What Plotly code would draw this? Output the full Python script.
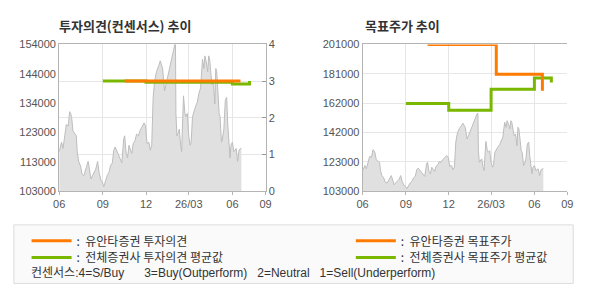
import plotly.graph_objects as go
import pandas as pd

# ---------------- data ----------------
start_date = "2025-06-01"
end_date = "2026-08-10"

tick_dates = ["2025-06-01", "2025-09-01", "2025-12-01", "2026-03-01", "2026-06-01", "2026-08-10"]
tick_labels = ["06", "09", "12", "26/03", "06", "09"]

# daily close (sampled), days since start_date
price_day = [0, 5, 8, 12, 15, 19, 22, 24, 26, 29,
             32, 36, 38, 41, 45, 48, 52, 55, 58, 61,
             64, 67, 70, 74, 77, 81, 84, 88, 91, 94,
             98, 101, 105, 108, 112, 115, 118, 122, 125, 129,
             132, 136, 138, 141, 144, 147, 150, 153, 156, 160,
             163, 167, 170, 174, 177, 179, 182, 185, 189, 192,
             195, 198, 201, 205, 210, 213, 218, 222, 225, 229,
             232, 236, 239, 243, 245, 246, 248, 251, 253, 256,
             258, 260, 262, 265, 267, 270, 273, 276, 278, 281,
             284, 287, 291, 294, 298, 300, 302, 305, 307, 310,
             313, 315, 317, 320, 322, 325, 328, 330, 332, 334,
             337, 339, 342, 344, 347, 350, 353, 355, 357, 360,
             362, 365, 368, 371, 373, 376, 379, 382, 384]
price_val = [116700, 120000, 117800, 123300, 126100, 125600, 130600, 130000, 128900, 123900,
             123300, 122200, 116700, 113300, 111700, 108900, 108300, 110600, 111700, 113300,
             110600, 107200, 108300, 110000, 110600, 113300, 109500, 106700, 106100, 104500,
             106700, 108300, 109500, 111700, 112800, 117200, 118300, 116700, 116100, 114500,
             112800, 121100, 122200, 116100, 114500, 118900, 117200, 116100, 119500, 120600,
             122800, 122200, 123900, 125000, 126100, 126700, 125600, 119500, 120000, 117200,
             118900, 135600, 141100, 144500, 146700, 148300, 145600, 137800, 140000, 143300,
             145600, 147800, 151100, 154500, 155000, 130000, 122200, 123300, 124500, 118900,
             116700, 126700, 136100, 130000, 128900, 130000, 122200, 118900, 120000, 128900,
             131100, 132200, 133900, 136700, 138900, 144500, 148900, 145600, 150000, 147800,
             144500, 150000, 148900, 143300, 140000, 141100, 133300, 145600, 144500, 138900,
             130000, 128900, 120000, 121100, 124500, 134500, 135600, 126700, 121100, 114500,
             118900, 120000, 116700, 117200, 117800, 113300, 117200, 117800, 117800]

# investment opinion (0-4 scale)
op_own_dates = ["2025-10-17", "2026-06-18"]
op_own_vals = [3.0, 3.0]
op_avg_dates = ["2025-09-01", "2025-12-01", "2026-06-01", "2026-07-07"]
op_avg_vals = [3.0, 2.97, 2.92, 3.0]

# target price
tp_own_dates = ["2025-10-17", "2026-03-12", "2026-06-18"]
tp_own_vals = [201000, 181000, 170000]
tp_avg_dates = ["2025-09-01", "2025-12-01", "2026-03-01", "2026-06-01", "2026-07-07"]
tp_avg_vals = [161500, 157000, 171000, 178500, 175500]

left_ytickvals = [103000, 113200, 123400, 133600, 143800, 154000]
left_yticktext = ["103000", "113000", "123000", "134000", "144000", "154000"]
op_tickvals = [0, 1, 2, 3, 4]
right_ytickvals = [103000, 122600, 142200, 161800, 181400, 201000]
right_yticktext = ["103000", "123000", "142000", "162000", "181000", "201000"]

# ---------------- styling ----------------
W, H = 590, 300
ORANGE = "#FF7A00"
GREEN = "#7AB800"
AXIS = "#b4b4b4"
GRID = "#e6e6e6"
TXT = "#555555"
KFONT = "Noto Sans CJK KR"
NFONT = "Liberation Sans"
nb = "\u00a0"

def px(x):
    return x / W

def py(y):
    return 1 - y / H

dates = [pd.Timestamp(start_date) + pd.Timedelta(days=d) for d in price_day]

fig = go.Figure()

for xa, ya in [("x", "y"), ("x2", "y3")]:
    fig.add_trace(go.Scatter(
        x=dates, y=price_val, xaxis=xa, yaxis=ya, mode="lines",
        line=dict(color="#bdbdbd", width=1), fill="tozeroy", fillcolor="#e0e0e0",
        showlegend=False, hoverinfo="skip"))

fig.add_trace(go.Scatter(
    x=op_avg_dates, y=op_avg_vals, xaxis="x", yaxis="y2", mode="lines",
    line=dict(color=GREEN, width=3, shape="hv"),
    name=":" + nb + " 전체증권사 투자의견 평균값", legend="legend2"))
fig.add_trace(go.Scatter(
    x=op_own_dates, y=op_own_vals, xaxis="x", yaxis="y2", mode="lines",
    line=dict(color=ORANGE, width=3, shape="hv"),
    name=":" + nb + " 유안타증권 투자의견", legend="legend"))
fig.add_trace(go.Scatter(
    x=tp_avg_dates, y=tp_avg_vals, xaxis="x2", yaxis="y3", mode="lines",
    line=dict(color=GREEN, width=3, shape="hv"),
    name=":" + nb + " 전체증권사 목표주가 평균값", legend="legend4"))
fig.add_trace(go.Scatter(
    x=tp_own_dates, y=tp_own_vals, xaxis="x2", yaxis="y3", mode="lines",
    line=dict(color=ORANGE, width=3, shape="hv"),
    name=":" + nb + " 유안타증권 목표주가", legend="legend3"))

tickfont = dict(family=NFONT, size=11, color=TXT)
ydom = [py(192.7), py(40)]

common_x = dict(type="date", range=[start_date, end_date], tickmode="array",
                tickvals=tick_dates, ticktext=tick_labels, showgrid=True,
                gridcolor=GRID, showline=True, linecolor=AXIS, linewidth=1,
                mirror=True, ticks="outside", ticklen=3, tickcolor=AXIS,
                tickfont=tickfont, zeroline=False, fixedrange=True)

legend_common = dict(orientation="v", xanchor="left", yanchor="top",
                     bgcolor="rgba(0,0,0,0)", borderwidth=0, itemwidth=40,
                     font=dict(family=KFONT, size=12, color="#333333"),
                     tracegroupgap=0, itemclick=False, itemdoubleclick=False)

fig.update_layout(
    width=W, height=H, margin=dict(l=0, r=0, t=0, b=0),
    paper_bgcolor="white", plot_bgcolor="white",
    xaxis=dict(domain=[px(54.3), px(265)], anchor="y", **common_x),
    yaxis=dict(domain=ydom, anchor="x", range=[103000, 154000], tickmode="array",
               tickvals=left_ytickvals, ticktext=left_yticktext, showgrid=False,
               showline=True, linecolor=AXIS, zeroline=False, tickfont=tickfont,
               ticks="", fixedrange=True),
    yaxis2=dict(overlaying="y", side="right", anchor="x", range=[0, 4],
                tickmode="array", tickvals=op_tickvals, showgrid=True, gridcolor=GRID,
                showline=True, linecolor=AXIS, zeroline=False, tickfont=tickfont,
                ticks="inside", ticklen=4, tickcolor="#999999", fixedrange=True),
    xaxis2=dict(domain=[px(364), px(573)], anchor="y3", **common_x),
    yaxis3=dict(domain=ydom, anchor="x2", range=[103000, 201000], tickmode="array",
                tickvals=right_ytickvals, ticktext=right_yticktext, showgrid=True,
                gridcolor=GRID, showline=True, linecolor=AXIS, zeroline=False,
                tickfont=tickfont, ticks="", fixedrange=True),
    legend=dict(x=px(21), y=py(229.5), **legend_common),
    legend2=dict(x=px(21), y=py(247), **legend_common),
    legend3=dict(x=px(352), y=py(229.5), **legend_common),
    legend4=dict(x=px(352), y=py(247), **legend_common),
    showlegend=True,
)

# legend box
fig.add_shape(type="rect", xref="paper", yref="paper",
              x0=px(8), x1=px(579), y0=py(289), y1=py(228),
              line=dict(color="#dcdcdc", width=1), fillcolor="#fafafa", layer="below")

# titles
fig.add_annotation(xref="paper", yref="paper", x=px(52), y=py(20), xanchor="left",
                   yanchor="middle", showarrow=False,
                   text="<b>투자의견(컨센서스) 추이</b>",
                   font=dict(family=KFONT, size=13, color="#333333"))
fig.add_annotation(xref="paper", yref="paper", x=px(364), y=py(20), xanchor="left",
                   yanchor="middle", showarrow=False,
                   text="<b>목표주가 추이</b>",
                   font=dict(family=KFONT, size=13, color="#333333"))

note = ("컨센서스:4=S/Buy" + nb * 6 + "3=Buy(Outperform)" + nb * 3 + "2=Neutral" + nb * 3
        + "1=Sell(Underperform)")
fig.add_annotation(xref="paper", yref="paper", x=px(23), y=py(269), xanchor="left",
                   yanchor="top", showarrow=False, text=note,
                   font=dict(family=NFONT + ", " + KFONT, size=12, color="#333333"))

fig.write_html("out.html")
